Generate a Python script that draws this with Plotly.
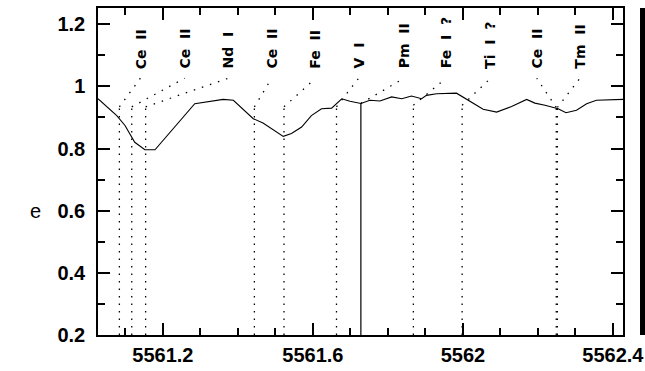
import plotly.graph_objects as go

# Spectrum (wavelength in Angstrom, normalised flux)
wavelength = [5561.027, 5561.077, 5561.099, 5561.125, 5561.152, 5561.179, 5561.285, 5561.361,
              5561.388, 5561.441, 5561.467, 5561.521, 5561.543, 5561.570, 5561.596, 5561.623,
              5561.650, 5561.663, 5561.677, 5561.699, 5561.728, 5561.752, 5561.779, 5561.810,
              5561.837, 5561.863, 5561.890, 5561.903, 5561.930, 5561.983, 5562.010, 5562.054,
              5562.090, 5562.130, 5562.170, 5562.192, 5562.219, 5562.254, 5562.275, 5562.303,
              5562.330, 5562.356, 5562.427]
flux = [0.960, 0.906, 0.874, 0.820, 0.796, 0.796, 0.944, 0.958,
        0.955, 0.896, 0.882, 0.839, 0.848, 0.869, 0.906, 0.928,
        0.930, 0.946, 0.960, 0.952, 0.945, 0.955, 0.953, 0.966,
        0.960, 0.969, 0.960, 0.971, 0.976, 0.978, 0.958, 0.926,
        0.917, 0.935, 0.958, 0.946, 0.939, 0.928, 0.915, 0.923,
        0.944, 0.955, 0.958]

# Axis tick labels
x_tickvals = [5561.2, 5561.6, 5562.0, 5562.4]
x_ticktext = ["5561.2", "5561.6", "5562", "5562.4"]
y_tickvals = [0.2, 0.4, 0.6, 0.8, 1.0, 1.2]
y_ticktext = ["0.2", "0.4", "0.6", "0.8", "1", "1.2"]

# Line identifications
line_ids = ["Ce  II", "Ce  II", "Nd  I", "Ce  II", "Fe  II", "V  I",
            "Pm  II", "Fe  I  ?", "Ti  I  ?", "Ce  II", "Tm  II"]
line_wl = [5561.084, 5561.117, 5561.154, 5561.444, 5561.523, 5561.663,
           5561.728, 5561.868, 5561.998, 5562.249, 5562.252]
line_top = [0.934, 0.934, 0.934, 0.934, 0.934, 0.934,
            0.945, 0.939, 0.939, 0.932, 0.932]
line_solid = [False, False, False, False, False, False,
              True, False, False, False, False]
label_x = [5561.140, 5561.258, 5561.374, 5561.490, 5561.607, 5561.722,
           5561.843, 5561.955, 5562.074, 5562.197, 5562.312]
label_base = 1.05
diag_end = 1.026

Y_MIN = 0.2

fig = go.Figure()

vx, vy = [], []
sx, sy = [], []
for w, t, solid in zip(line_wl, line_top, line_solid):
    if solid:
        sx += [w, w, None]
        sy += [Y_MIN, t, None]
    else:
        vx += [w, w, None]
        vy += [Y_MIN, t, None]

fig.add_trace(go.Scatter(x=vx, y=vy, mode="lines",
                         line=dict(color="black", width=1.3, dash="1.5px,6px"),
                         hoverinfo="skip", showlegend=False))
fig.add_trace(go.Scatter(x=sx, y=sy, mode="lines",
                         line=dict(color="black", width=1.2),
                         hoverinfo="skip", showlegend=False))

dx, dy = [], []
for w, t, lx in zip(line_wl, line_top, label_x):
    dx += [w, lx, None]
    dy += [t, diag_end, None]
fig.add_trace(go.Scatter(x=dx, y=dy, mode="lines",
                         line=dict(color="black", width=1.3, dash="1.5px,7px"),
                         hoverinfo="skip", showlegend=False))

fig.add_trace(go.Scatter(x=wavelength, y=flux, mode="lines",
                         line=dict(color="black", width=1.1),
                         hoverinfo="skip", showlegend=False))

for txt, lx in zip(line_ids, label_x):
    fig.add_annotation(x=lx, y=label_base, xref="x", yref="y",
                       text=txt.replace(" ", "\u00a0"), showarrow=False,
                       textangle=-90, xanchor="center", yanchor="bottom",
                       font=dict(family="DejaVu Sans", size=14,
                                 color="black", weight="bold"))

fig.add_annotation(x=-0.12, y=0.38, xref="paper", yref="paper", text="e",
                   showarrow=False, xanchor="center", yanchor="middle",
                   font=dict(family="Liberation Sans, Arial", size=20, color="black"))

fig.add_shape(type="rect", xref="paper", yref="paper", x0=1.0324, x1=1.045,
              y0=0, y1=1, fillcolor="black", line=dict(width=0))

tickfont = dict(family="Liberation Sans, Arial", size=20, color="black", weight="bold")
fig.update_xaxes(range=[5561.027, 5562.427], tickmode="array",
                 tickvals=x_tickvals, ticktext=x_ticktext,
                 ticks="inside", ticklen=12, tickwidth=1.5, tickcolor="black",
                 minor=dict(tickmode="linear", dtick=0.1, tick0=5561.2, ticks="inside",
                            ticklen=7, tickwidth=1.5, tickcolor="black", showgrid=False),
                 showline=True, linewidth=1.5, linecolor="black", mirror="ticks",
                 showgrid=False, zeroline=False, tickfont=tickfont,
                 ticklabelstandoff=1, ticklabeloverflow="allow", automargin=False)
fig.update_yaxes(range=[0.2, 1.252], tickmode="array",
                 tickvals=y_tickvals, ticktext=y_ticktext,
                 ticks="inside", ticklen=12, tickwidth=1.5, tickcolor="black",
                 minor=dict(tickmode="linear", dtick=0.1, tick0=0.2, ticks="inside",
                            ticklen=7, tickwidth=1.5, tickcolor="black", showgrid=False),
                 showline=True, linewidth=1.5, linecolor="black", mirror="ticks",
                 showgrid=False, zeroline=False, tickfont=tickfont,
                 ticklabelstandoff=7, ticklabeloverflow="allow", automargin=False)

fig.update_layout(width=645, height=371, autosize=False,
                  margin=dict(l=98, r=22, t=8, b=36),
                  paper_bgcolor="white", plot_bgcolor="white")

fig.write_html("out.html")
